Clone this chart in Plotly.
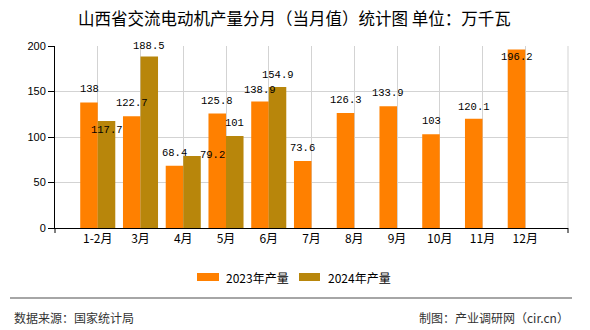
import plotly.graph_objects as go

# ---- data ----
categories = ["1-2月", "3月", "4月", "5月", "6月", "7月", "8月", "9月", "10月", "11月", "12月"]
values_2023 = [138, 122.7, 68.4, 125.8, 138.9, 73.6, 126.3, 133.9, 103, 120.1, 196.2]
values_2024 = [117.7, 188.5, 79.2, 101, 154.9, None, None, None, None, None, None]
series_names = ["2023年产量", "2024年产量"]
y_ticks = [0, 50, 100, 150, 200]

title_text = "山西省交流电动机产量分月（当月值）统计图 单位：万千瓦"
source_text = "数据来源：国家统计局"
maker_text = "制图：产业调研网（cir.cn）"

# ---- style ----
colors = ["#FF8000", "#B8860B"]
label_dy_2023 = [13, 13, 13, 13, 12, 13, 13, 13, 13, 12, -8]
label_dy_2024 = [-9, 10, 1, 13, 12, 0, 0, 0, 0, 0, 0]
label_dx_2024 = [0, 0, 20, 0, 0, 0, 0, 0, 0, 0, 0]

W, H = 590, 330
L, R, T, B = 55, 568, 46, 228  # plot area pixel bounds


def px(x):
    return (x - L) / (R - L)


def py(y):
    return (B - y) / (B - T)


fig = go.Figure()
for name, vals, col in zip(series_names, [values_2023, values_2024], colors):
    fig.add_trace(go.Bar(x=categories, y=vals, name=name, marker=dict(color=col, line=dict(width=0)),
                         showlegend=False))

label_font = dict(family="Liberation Mono, DejaVu Sans Mono, monospace", size=10.5, color="#000000")
bar_half = 8.75
annotations = []
for i, c in enumerate(categories):
    v = values_2023[i]
    if v is not None:
        annotations.append(dict(x=c, y=v, xref="x", yref="y", text=f"{v:g}", showarrow=False,
                                font=label_font, xshift=-bar_half, yshift=label_dy_2023[i],
                                yanchor="middle", xanchor="center"))
    v = values_2024[i]
    if v is not None:
        annotations.append(dict(x=c, y=v, xref="x", yref="y", text=f"{v:g}", showarrow=False,
                                font=label_font, xshift=bar_half + label_dx_2024[i],
                                yshift=label_dy_2024[i], yanchor="middle", xanchor="center"))

cjk = "Noto Sans CJK SC, Noto Sans, sans-serif"
# title
annotations.append(dict(x=px(294), y=py(18), xref="paper", yref="paper", text=title_text, showarrow=False,
                        xanchor="center", yanchor="middle", font=dict(family=cjk, size=16.5, color="#000000")))
# custom legend
leg_font = dict(family=cjk, size=12, color="#000000")
shapes = []
for (x0, x1, tx), name, col in zip([(197, 219, 224), (299, 320, 326)], series_names, colors):
    shapes.append(dict(type="rect", xref="paper", yref="paper", x0=px(x0), x1=px(x1), y0=py(281), y1=py(273),
                       fillcolor=col, line=dict(width=0)))
    annotations.append(dict(x=px(tx), y=py(277), xref="paper", yref="paper", text=name, showarrow=False,
                            xanchor="left", yanchor="middle", font=leg_font))
# footer
shapes.append(dict(type="line", xref="paper", yref="paper", x0=px(10), x1=px(572), y0=py(298), y1=py(298),
                   line=dict(color="#888888", width=1.5)))
foot_font = dict(family=cjk, size=12, color="#333333")
annotations.append(dict(x=px(12), y=py(317), xref="paper", yref="paper", text=source_text, showarrow=False,
                        xanchor="left", yanchor="middle", font=foot_font))
annotations.append(dict(x=px(571), y=py(317), xref="paper", yref="paper", text=maker_text, showarrow=False,
                        xanchor="right", yanchor="middle", font=foot_font))
# right border grid line and end ticks on x axis
shapes.append(dict(type="line", xref="paper", yref="paper", x0=1, x1=1, y0=0, y1=1,
                   line=dict(color="#d3d3d3", width=1), layer="below"))
for xp in (0, 1):
    shapes.append(dict(type="line", xref="paper", yref="paper", x0=xp, x1=xp, y0=0, y1=py(B + 5),
                       line=dict(color="#000000", width=1)))

fig.update_layout(
    width=W, height=H,
    margin=dict(l=L, r=W - R, t=T, b=H - B, pad=0),
    paper_bgcolor="#ffffff", plot_bgcolor="#ffffff",
    barmode="group", bargap=0.18, bargroupgap=0,
    annotations=annotations, shapes=shapes,
    showlegend=False,
)
fig.update_xaxes(
    type="category", range=[-1, len(categories)], showgrid=True, gridcolor="#d3d3d3", gridwidth=1,
    showline=True, linecolor="#000000", linewidth=1, ticks="", zeroline=False,
    tickfont=dict(family=cjk, size=12, color="#000000"), fixedrange=True,
)
fig.update_yaxes(
    range=[0, 200], tickvals=y_ticks, showgrid=True, gridcolor="#d3d3d3", gridwidth=1,
    showline=True, linecolor="#000000", linewidth=1, ticks="outside", ticklen=6, tickcolor="#000000",
    zeroline=False, tickfont=dict(family="Liberation Sans, Arial, sans-serif", size=11, color="#000000"),
    fixedrange=True,
)

fig.write_html("out.html", config={"displayModeBar": False})
